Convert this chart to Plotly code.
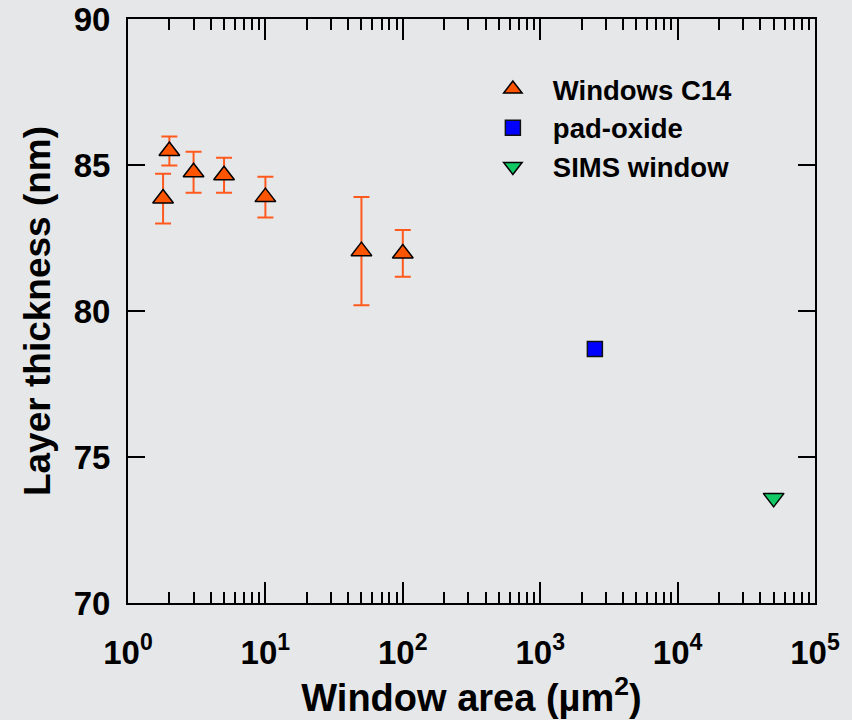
import plotly.graph_objects as go

# Windows C14 series
win_area = [1.8, 2, 3, 5, 10, 50, 100]
win_thick = [83.85, 85.48, 84.75, 84.65, 83.9, 82.05, 81.97]
win_err = [0.85, 0.5, 0.7, 0.6, 0.7, 1.85, 0.8]

# pad-oxide reference
pad_area = [2500]
pad_thick = [78.7]

# SIMS window
sims_area = [50000]
sims_thick = [73.6]

# axis tick labels
x_tickvals = [1, 10, 100, 1000, 10000, 100000]
x_ticktext = ["10<sup>%d</sup>" % i for i in range(6)]
y_tickvals = [70, 75, 80, 85, 90]

BG = "#e6e7e9"
FONT = "Liberation Sans"

fig = go.Figure()

fig.add_trace(go.Scatter(
    x=win_area, y=win_thick, mode="markers", name="Windows C14",
    marker=dict(symbol="triangle-up", size=18, color="#ff5500",
                line=dict(color="black", width=1.5)),
    error_y=dict(type="data", array=win_err, visible=True,
                 color="#ff5a1e", thickness=2, width=8),
))
fig.add_trace(go.Scatter(
    x=pad_area, y=pad_thick, mode="markers", name="pad-oxide",
    marker=dict(symbol="square", size=15, color="#0000ff",
                line=dict(color="#111111", width=1.5)),
))
fig.add_trace(go.Scatter(
    x=sims_area, y=sims_thick, mode="markers", name="SIMS window",
    marker=dict(symbol="triangle-down", size=18, color="#10c864",
                line=dict(color="black", width=1.5)),
))

minor_vals = [m * 10 ** k for k in range(5) for m in range(2, 10)]

fig.update_layout(
    width=852, height=720,
    margin=dict(l=128, r=37, t=19, b=117, pad=0),
    paper_bgcolor=BG, plot_bgcolor=BG,
    font=dict(family=FONT, color="black", weight="bold"),
    showlegend=True,
    legend=dict(x=0.502, y=0.922, xanchor="left", yanchor="top",
                bgcolor="rgba(0,0,0,0)", itemwidth=70, tracegroupgap=0,
                font=dict(family=FONT, size=27.5, weight="bold")),
    xaxis=dict(
        type="log", range=[0, 5], automargin=False,
        tickmode="array", tickvals=x_tickvals, ticktext=x_ticktext,
        ticks="inside", ticklen=21, tickwidth=1.5, tickcolor="black",
        minor=dict(tickmode="array", tickvals=minor_vals, ticks="inside",
                   ticklen=11, tickwidth=1.5, tickcolor="black", showgrid=False),
        showline=True, linecolor="black", linewidth=2, mirror="ticks",
        showgrid=False, zeroline=False,
        tickfont=dict(family=FONT, size=33, weight="bold"),
        ticklabelstandoff=19,
        title=dict(text="Window area (µm<sup>2</sup>)", standoff=14,
                   font=dict(family=FONT, size=38, weight="bold")),
    ),
    yaxis=dict(
        range=[70, 90], tickmode="array", tickvals=y_tickvals, automargin=False,
        ticks="inside", ticklen=17, tickwidth=1.5, tickcolor="black",
        showline=True, linecolor="black", linewidth=2, mirror="ticks",
        showgrid=False, zeroline=False,
        tickfont=dict(family=FONT, size=33, weight="bold"),
        ticklabelstandoff=9,
        title=dict(text="Layer thickness (nm)", standoff=12,
                   font=dict(family=FONT, size=37, weight="bold")),
    ),
)

fig.write_html("out.html")
